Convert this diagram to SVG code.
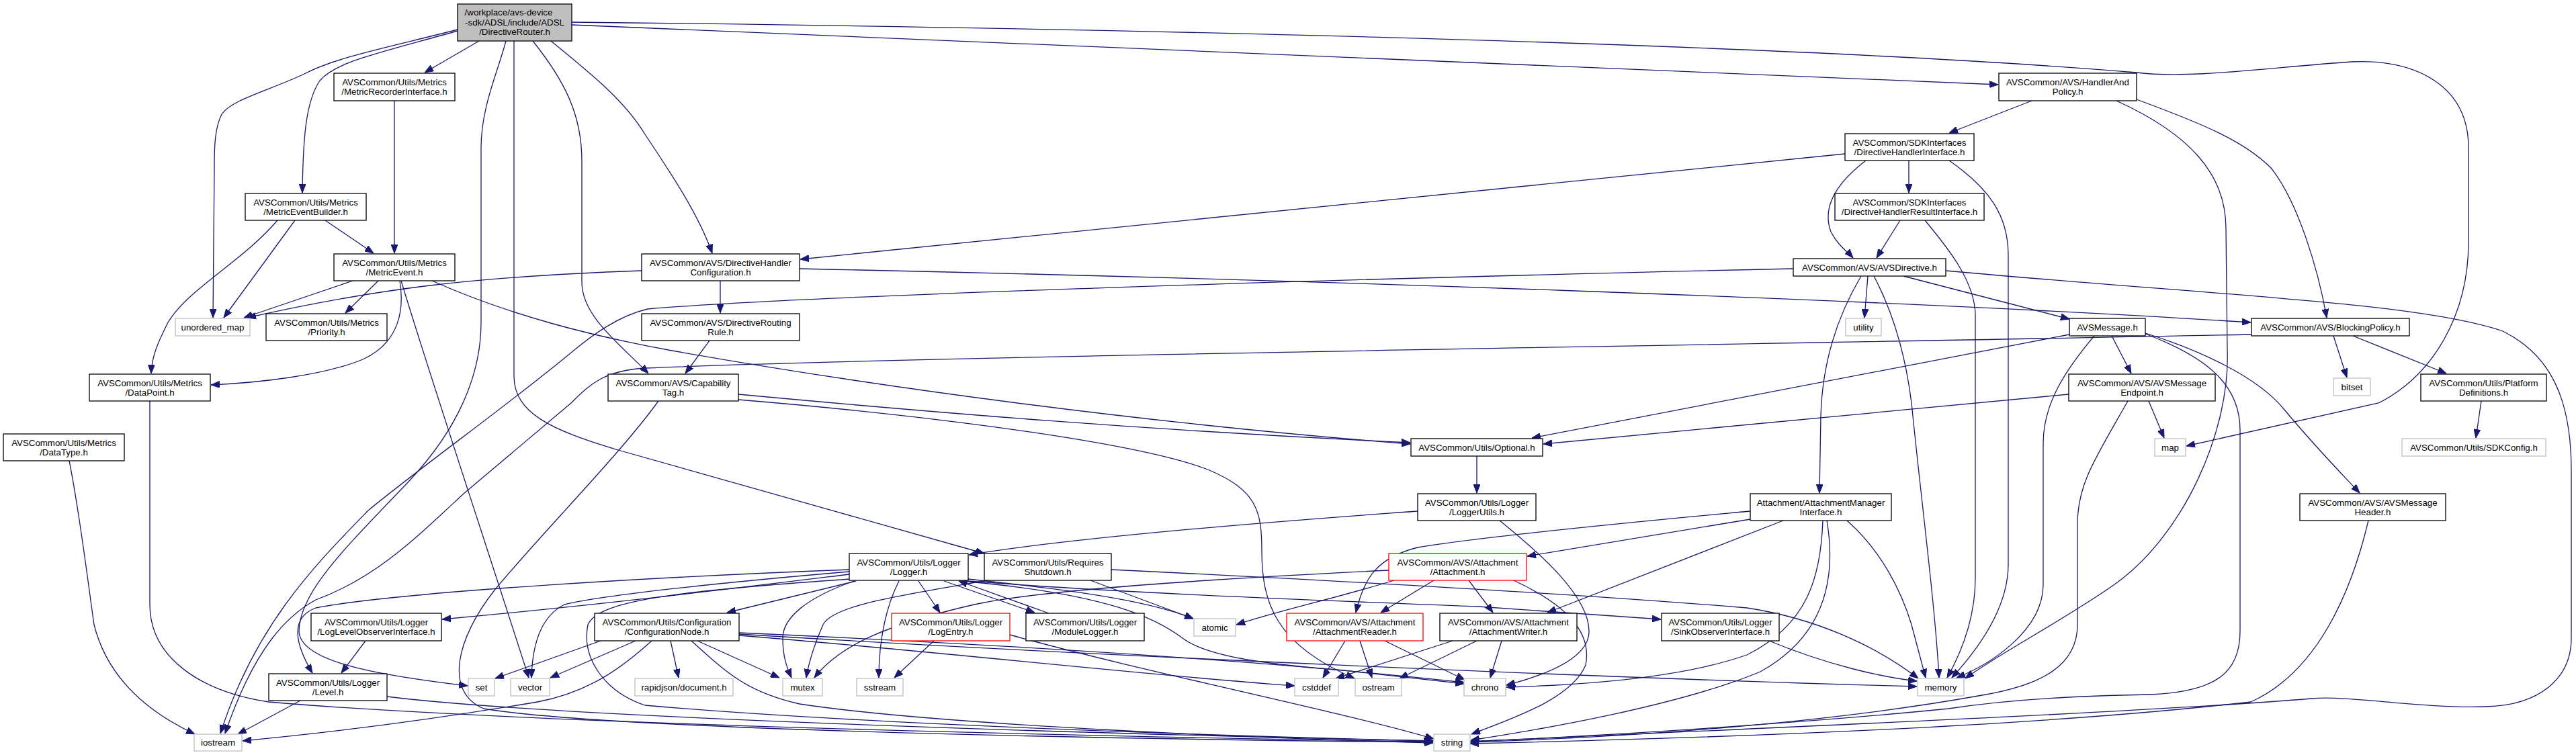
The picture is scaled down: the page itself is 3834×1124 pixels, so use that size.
<svg xmlns="http://www.w3.org/2000/svg" width="3834" height="1124" viewBox="0 0 3834 1124">
<style>
text{font-family:"Liberation Sans",Arial,Helvetica,sans-serif;font-size:13.3px;text-anchor:middle;fill:#000}
.n rect{fill:#fff;stroke:#000;stroke-width:1.3}
.s rect{fill:#fff;stroke:#bfbfbf;stroke-width:1.3}
.r rect{fill:#fff;stroke:#ff0000;stroke-width:1.3}
.g rect{fill:#bfbfbf;stroke:#000;stroke-width:1.3}
#edges path{fill:none;stroke:#191970;stroke-width:1.3;marker-end:url(#ah)}
</style>
<defs>
<marker id="ah" markerUnits="userSpaceOnUse" markerWidth="13" markerHeight="10" refX="13" refY="5" orient="auto" viewBox="0 0 13 10">
<path d="M0,0 L13,5 L0,10 z" fill="#191970" stroke="#191970" stroke-width="1"/>
</marker>
</defs>
<rect x="0" y="0" width="3834" height="1124" fill="#fff"/>
<g id="edges">
<path d="M681,44 C580,70 500,85 453,110 C400,135 345,148 330,170 C320,190 319,215 319,250 L317,473"/>
<path d="M681,46 C560,80 500,92 476,120 C456,150 451,200 450,287"/>
<path d="M713,61 L632,108"/>
<path d="M753,61 C740,110 716,160 716,220 L716,480 C716,560 680,640 610,715 C520,810 445,880 445,940 C447,985 560,1005 696,1021"/>
<path d="M765,61 L765,560 C765,615 820,640 920,670 L1465,824"/>
<path d="M793,61 C840,120 866,170 866,240 L866,420 C866,470 920,510 965,556"/>
<path d="M820,61 C880,110 930,150 960,200 C1000,260 1040,320 1060,377"/>
<path d="M851,37 L2974,126"/>
<path d="M851,33 C1500,40 2600,60 3180,108 C3260,118 3380,100 3500,92 C3600,88 3674,130 3674,220 L3674,360 C3674,470 3620,560 3540,600 L3254,664"/>
<path d="M587,150 L587,377"/>
<path d="M439,328 L333,473"/>
<path d="M484,328 L556,377"/>
<path d="M413,328 C360,390 280,430 250,480 C235,510 226,530 225,556"/>
<path d="M525,418 L363,473"/>
<path d="M563,418 L514,466"/>
<path d="M595,418 C602,460 595,510 540,535 C480,560 380,570 314,573"/>
<path d="M597,418 C640,560 720,800 787,1009"/>
<path d="M643,418 C760,470 880,500 1000,522 C1300,575 1700,630 2099,661"/>
<path d="M955,403 C700,412 560,430 368,473"/>
<path d="M1072,418 L1072,466"/>
<path d="M1190,400 C1900,415 2800,445 3350,480"/>
<path d="M2746,229 L1191,386"/>
<path d="M1056,507 L1020,556"/>
<path d="M3024,150 L2901,198"/>
<path d="M3180,148 C3280,185 3340,210 3380,250 C3420,300 3450,400 3463,473"/>
<path d="M3150,150 C3260,200 3313,260 3313,340 L3315,520 C3320,640 3250,800 3143,873 C3060,930 2980,970 2925,1010"/>
<path d="M2841,239 L2841,287"/>
<path d="M2777,239 C2730,275 2712,310 2725,345 C2735,365 2750,375 2758,384"/>
<path d="M2901,239 C2960,280 2989,320 2989,380 L2989,840 C2989,900 2950,960 2905,1009"/>
<path d="M2828,328 L2793,384"/>
<path d="M2865,328 C2900,370 2940,420 2940,470 L2940,860 C2940,920 2920,970 2898,1009"/>
<path d="M2780,411 L2775,473"/>
<path d="M2833,411 L3080,475"/>
<path d="M2770,411 C2735,470 2712,540 2710,620 L2708,734"/>
<path d="M2789,411 C2815,460 2835,520 2845,600 C2860,750 2880,900 2886,1009"/>
<path d="M2896,403 C3300,440 3600,450 3725,493 C3800,530 3827,600 3827,700 L3827,950 C3827,1010 3780,1050 3700,1052 C3600,1055 3500,1035 3440,1040 C3200,1060 2600,1085 2188,1104"/>
<path d="M2669,400 C2000,415 1200,440 964,460 C920,470 880,500 850,525 C760,600 620,700 548,760 C470,840 380,930 328,1092"/>
<path d="M3080,498 L2280,652"/>
<path d="M3117,500 C3075,550 3041,600 3041,660 L3041,870 C3041,940 2960,990 2912,1009"/>
<path d="M3143,500 L3172,556"/>
<path d="M3193,496 C3270,520 3360,560 3400,610 C3450,670 3490,710 3512,734"/>
<path d="M3193,497 C3280,530 3334,570 3334,640 L3334,940 C3334,1000 3300,1030 3200,1034 C3100,1036 3000,1040 2900,1055 C2700,1075 2400,1095 2188,1104"/>
<path d="M3079,587 L2297,661"/>
<path d="M3198,597 L3221,652"/>
<path d="M3167,597 C3120,680 3092,720 3092,780 L3092,930 C3092,990 3040,1020 2950,1035 C2700,1080 2400,1098 2188,1105"/>
<path d="M3525,775 C3500,880 3450,1000 3350,1045 C3000,1085 2500,1100 2188,1107"/>
<path d="M3473,500 L3493,562"/>
<path d="M3502,500 L3641,556"/>
<path d="M3351,498 C2500,515 1400,530 960,548 C900,552 880,570 850,600 L690,735 C620,800 560,860 470,893 C430,915 380,960 335,1092"/>
<path d="M3693,597 L3685,652"/>
<path d="M2198,679 L2198,734"/>
<path d="M2110,761 C1900,776 1600,800 1442,826"/>
<path d="M2232,775 C2300,830 2365,890 2365,940 C2365,980 2300,1005 2242,1020"/>
<path d="M2605,773 L2273,828"/>
<path d="M2605,761 C2400,780 2200,800 2110,815 C2050,830 2030,860 2018,912"/>
<path d="M2654,775 L2303,912"/>
<path d="M2713,775 C2710,860 2690,930 2600,975 C2500,1010 2350,1020 2242,1023"/>
<path d="M2719,775 C2735,870 2710,950 2620,1000 C2500,1050 2300,1085 2189,1102"/>
<path d="M2749,775 C2800,820 2830,880 2845,930 L2866,1009"/>
<path d="M2067,849 C1800,862 1550,878 1450,900 C1320,930 1250,960 1212,1009"/>
<path d="M2075,864 C1990,890 1900,910 1840,930"/>
<path d="M2134,864 L2055,912"/>
<path d="M2186,864 L2222,912"/>
<path d="M2253,864 C2330,900 2370,940 2360,990 C2340,1040 2250,1070 2190,1093"/>
<path d="M2002,954 L1969,1009"/>
<path d="M2024,954 L2042,1009"/>
<path d="M2061,954 L2180,1012"/>
<path d="M2162,954 L1988,1010"/>
<path d="M2198,954 L2083,1010"/>
<path d="M2235,954 L2218,1009"/>
<path d="M2633,954 C2720,990 2800,1008 2853,1014"/>
<path d="M1654,848 C1900,860 2300,880 2600,905 C2700,920 2790,960 2855,1010"/>
<path d="M1623,864 L1776,921"/>
<path d="M1470,864 C1350,885 1240,900 1225,930 C1212,960 1203,990 1200,1009"/>
<path d="M1264,855 C1100,875 900,900 658,922"/>
<path d="M1264,848 C1000,858 600,880 470,905 C430,920 440,960 465,1002"/>
<path d="M1264,851 C1100,865 900,885 840,900 C800,920 792,970 791,1009"/>
<path d="M1266,862 C1000,880 890,895 875,930 C865,980 900,1030 960,1050 C1300,1080 1900,1098 2132,1103"/>
<path d="M1274,865 L1082,912"/>
<path d="M1271,865 C1200,890 1165,920 1165,950 C1165,980 1172,995 1178,1009"/>
<path d="M1338,865 C1320,900 1308,950 1308,1009"/>
<path d="M1367,865 L1399,912"/>
<path d="M1405,865 L1540,912"/>
<path d="M1561,913 L1427,865"/>
<path d="M1441,862 C1560,875 1700,890 1776,921"/>
<path d="M1441,865 C1700,885 2000,895 2200,903 L2472,922"/>
<path d="M1441,866 C1650,885 1720,920 1760,950 C1800,980 1900,990 2000,998 L2179,1018"/>
<path d="M1100,942 C1500,960 1900,985 2179,1016"/>
<path d="M1100,944 C1600,975 2400,1010 2853,1022"/>
<path d="M1100,946 C1400,970 1700,1005 1927,1021"/>
<path d="M894,954 L737,1010"/>
<path d="M946,954 L819,1009"/>
<path d="M998,954 L1010,1009"/>
<path d="M1038,954 L1160,1009"/>
<path d="M970,954 C930,990 880,1030 800,1045 C650,1070 500,1090 361,1103"/>
<path d="M1029,954 C1080,1000 1110,1030 1190,1048 C1400,1080 1900,1100 2133,1106"/>
<path d="M1390,954 L1331,1009"/>
<path d="M1503,945 C1700,1000 2000,1060 2134,1100"/>
<path d="M447,1043 L354,1093"/>
<path d="M576,1037 C800,1065 1500,1090 2133,1103"/>
<path d="M544,954 L508,1002"/>
<path d="M103,686 C118,760 130,860 140,930 C160,1010 220,1060 290,1093"/>
<path d="M223,597 L223,900 C223,980 300,1030 400,1045 C800,1080 1800,1100 2133,1104"/>
<path d="M1099,587 C1400,615 1700,640 2099,659"/>
<path d="M1099,595 C1400,620 1700,660 1800,700 C1870,730 1878,760 1878,820 C1878,900 1900,960 2016,1010"/>
<path d="M980,597 C920,680 800,800 735,880 C680,950 660,1030 720,1055 C900,1085 1600,1100 2133,1105"/>
</g>
<g id="root" class="g"><rect x="681" y="6" width="170" height="55"/><text><tspan x="757" y="23">/workplace/avs-device</tspan><tspan x="766" y="37.5">-sdk/ADSL/include/ADSL</tspan><tspan x="766" y="52">/DirectiveRouter.h</tspan></text></g>
<g id="mri" class="n"><rect x="497" y="109" width="180" height="41"/><text><tspan x="587" y="126.5">AVSCommon/Utils/Metrics</tspan><tspan x="587" y="141">/MetricRecorderInterface.h</tspan></text></g>
<g id="meb" class="n"><rect x="365" y="288" width="180" height="40"/><text><tspan x="455" y="305.5">AVSCommon/Utils/Metrics</tspan><tspan x="455" y="320">/MetricEventBuilder.h</tspan></text></g>
<g id="me" class="n"><rect x="497" y="378" width="180" height="40"/><text><tspan x="587" y="395.5">AVSCommon/Utils/Metrics</tspan><tspan x="587" y="410">/MetricEvent.h</tspan></text></g>
<g id="um" class="s"><rect x="261" y="474" width="111" height="26"/><text x="316.5" y="491.5">unordered_map</text></g>
<g id="pri" class="n"><rect x="396" y="467" width="180" height="40"/><text><tspan x="486" y="484.5">AVSCommon/Utils/Metrics</tspan><tspan x="486" y="499">/Priority.h</tspan></text></g>
<g id="dp" class="n"><rect x="133" y="557" width="180" height="40"/><text><tspan x="223" y="574.5">AVSCommon/Utils/Metrics</tspan><tspan x="223" y="589">/DataPoint.h</tspan></text></g>
<g id="dt" class="n"><rect x="5" y="646" width="180" height="40"/><text><tspan x="95" y="663.5">AVSCommon/Utils/Metrics</tspan><tspan x="95" y="678">/DataType.h</tspan></text></g>
<g id="ios" class="s"><rect x="289" y="1093" width="71" height="25"/><text x="324.5" y="1110">iostream</text></g>
<g id="lloi" class="n"><rect x="463" y="913" width="194" height="41"/><text><tspan x="560" y="930.5">AVSCommon/Utils/Logger</tspan><tspan x="560" y="945">/LogLevelObserverInterface.h</tspan></text></g>
<g id="lvl" class="n"><rect x="400" y="1003" width="176" height="40"/><text><tspan x="488" y="1020.5">AVSCommon/Utils/Logger</tspan><tspan x="488" y="1035">/Level.h</tspan></text></g>
<g id="set" class="s"><rect x="697" y="1010" width="39" height="26"/><text x="716.5" y="1027.5">set</text></g>
<g id="vec" class="s"><rect x="760" y="1010" width="58" height="26"/><text x="789" y="1027.5">vector</text></g>
<g id="cfg" class="n"><rect x="885" y="913" width="215" height="41"/><text><tspan x="992.5" y="930.5">AVSCommon/Utils/Configuration</tspan><tspan x="992.5" y="945">/ConfigurationNode.h</tspan></text></g>
<g id="rapid" class="s"><rect x="945" y="1010" width="146" height="26"/><text x="1018" y="1027.5">rapidjson/document.h</text></g>
<g id="mutex" class="s"><rect x="1165" y="1010" width="59" height="26"/><text x="1194.5" y="1027.5">mutex</text></g>
<g id="sstr" class="s"><rect x="1275" y="1010" width="69" height="26"/><text x="1309.5" y="1027.5">sstream</text></g>
<g id="log" class="n"><rect x="1264" y="824" width="177" height="40"/><text><tspan x="1352.5" y="841.5">AVSCommon/Utils/Logger</tspan><tspan x="1352.5" y="856">/Logger.h</tspan></text></g>
<g id="rs" class="n"><rect x="1465" y="824" width="189" height="40"/><text><tspan x="1559.5" y="841.5">AVSCommon/Utils/Requires</tspan><tspan x="1559.5" y="856">Shutdown.h</tspan></text></g>
<g id="le" class="r"><rect x="1327" y="913" width="176" height="41"/><text><tspan x="1415" y="930.5">AVSCommon/Utils/Logger</tspan><tspan x="1415" y="945">/LogEntry.h</tspan></text></g>
<g id="ml" class="n"><rect x="1527" y="913" width="176" height="41"/><text><tspan x="1615" y="930.5">AVSCommon/Utils/Logger</tspan><tspan x="1615" y="945">/ModuleLogger.h</tspan></text></g>
<g id="atom" class="s"><rect x="1777" y="921" width="62" height="26"/><text x="1808" y="938.5">atomic</text></g>
<g id="opt" class="n"><rect x="2100" y="653" width="196" height="26"/><text x="2198" y="670.5">AVSCommon/Utils/Optional.h</text></g>
<g id="lu" class="n"><rect x="2110" y="735" width="176" height="40"/><text><tspan x="2198" y="752.5">AVSCommon/Utils/Logger</tspan><tspan x="2198" y="767">/LoggerUtils.h</tspan></text></g>
<g id="ami" class="n"><rect x="2605" y="735" width="210" height="40"/><text><tspan x="2710" y="752.5">Attachment/AttachmentManager</tspan><tspan x="2710" y="767">Interface.h</tspan></text></g>
<g id="att" class="r"><rect x="2067" y="824" width="205" height="40"/><text><tspan x="2169.5" y="841.5">AVSCommon/AVS/Attachment</tspan><tspan x="2169.5" y="856">/Attachment.h</tspan></text></g>
<g id="ar" class="r"><rect x="1915" y="913" width="203" height="41"/><text><tspan x="2016.5" y="930.5">AVSCommon/AVS/Attachment</tspan><tspan x="2016.5" y="945">/AttachmentReader.h</tspan></text></g>
<g id="aw" class="n"><rect x="2143" y="913" width="204" height="41"/><text><tspan x="2245" y="930.5">AVSCommon/AVS/Attachment</tspan><tspan x="2245" y="945">/AttachmentWriter.h</tspan></text></g>
<g id="soi" class="n"><rect x="2473" y="913" width="175" height="41"/><text><tspan x="2560.5" y="930.5">AVSCommon/Utils/Logger</tspan><tspan x="2560.5" y="945">/SinkObserverInterface.h</tspan></text></g>
<g id="cst" class="s"><rect x="1927" y="1010" width="65" height="26"/><text x="1959.5" y="1027.5">cstddef</text></g>
<g id="ost" class="s"><rect x="2017" y="1010" width="69" height="26"/><text x="2051.5" y="1027.5">ostream</text></g>
<g id="chr" class="s"><rect x="2179" y="1010" width="62" height="26"/><text x="2210" y="1027.5">chrono</text></g>
<g id="str" class="s"><rect x="2134" y="1093" width="54" height="25"/><text x="2161" y="1110">string</text></g>
<g id="mem" class="s"><rect x="2854" y="1010" width="69" height="26"/><text x="2888.5" y="1027.5">memory</text></g>
<g id="amh" class="n"><rect x="3423" y="735" width="217" height="40"/><text><tspan x="3531.5" y="752.5">AVSCommon/AVS/AVSMessage</tspan><tspan x="3531.5" y="767">Header.h</tspan></text></g>
<g id="avm" class="n"><rect x="3080" y="474" width="113" height="26"/><text x="3136.5" y="491.5">AVSMessage.h</text></g>
<g id="ame" class="n"><rect x="3079" y="557" width="218" height="40"/><text><tspan x="3188" y="574.5">AVSCommon/AVS/AVSMessage</tspan><tspan x="3188" y="589">Endpoint.h</tspan></text></g>
<g id="map" class="s"><rect x="3207" y="653" width="46" height="26"/><text x="3230" y="670.5">map</text></g>
<g id="bp" class="n"><rect x="3351" y="474" width="235" height="26"/><text x="3468.5" y="491.5">AVSCommon/AVS/BlockingPolicy.h</text></g>
<g id="bit" class="s"><rect x="3473" y="563" width="55" height="26"/><text x="3500.5" y="580.5">bitset</text></g>
<g id="pd" class="n"><rect x="3603" y="557" width="187" height="40"/><text><tspan x="3696.5" y="574.5">AVSCommon/Utils/Platform</tspan><tspan x="3696.5" y="589">Definitions.h</tspan></text></g>
<g id="sdk" class="s"><rect x="3575" y="653" width="214" height="26"/><text x="3682" y="670.5">AVSCommon/Utils/SDKConfig.h</text></g>
<g id="avd" class="n"><rect x="2669" y="385" width="227" height="26"/><text x="2782.5" y="402.5">AVSCommon/AVS/AVSDirective.h</text></g>
<g id="util" class="s"><rect x="2747" y="474" width="53" height="26"/><text x="2773.5" y="491.5">utility</text></g>
<g id="hap" class="n"><rect x="2975" y="109" width="205" height="41"/><text><tspan x="3077.5" y="126.5">AVSCommon/AVS/HandlerAnd</tspan><tspan x="3077.5" y="141">Policy.h</tspan></text></g>
<g id="dhi" class="n"><rect x="2746" y="199" width="192" height="40"/><text><tspan x="2842" y="216.5">AVSCommon/SDKInterfaces</tspan><tspan x="2842" y="231">/DirectiveHandlerInterface.h</tspan></text></g>
<g id="dhri" class="n"><rect x="2731" y="288" width="222" height="40"/><text><tspan x="2842" y="305.5">AVSCommon/SDKInterfaces</tspan><tspan x="2842" y="320">/DirectiveHandlerResultInterface.h</tspan></text></g>
<g id="dhc" class="n"><rect x="955" y="378" width="235" height="40"/><text><tspan x="1072.5" y="395.5">AVSCommon/AVS/DirectiveHandler</tspan><tspan x="1072.5" y="410">Configuration.h</tspan></text></g>
<g id="drr" class="n"><rect x="955" y="467" width="235" height="40"/><text><tspan x="1072.5" y="484.5">AVSCommon/AVS/DirectiveRouting</tspan><tspan x="1072.5" y="499">Rule.h</tspan></text></g>
<g id="cap" class="n"><rect x="905" y="557" width="194" height="40"/><text><tspan x="1002" y="574.5">AVSCommon/AVS/Capability</tspan><tspan x="1002" y="589">Tag.h</tspan></text></g>
</svg>
